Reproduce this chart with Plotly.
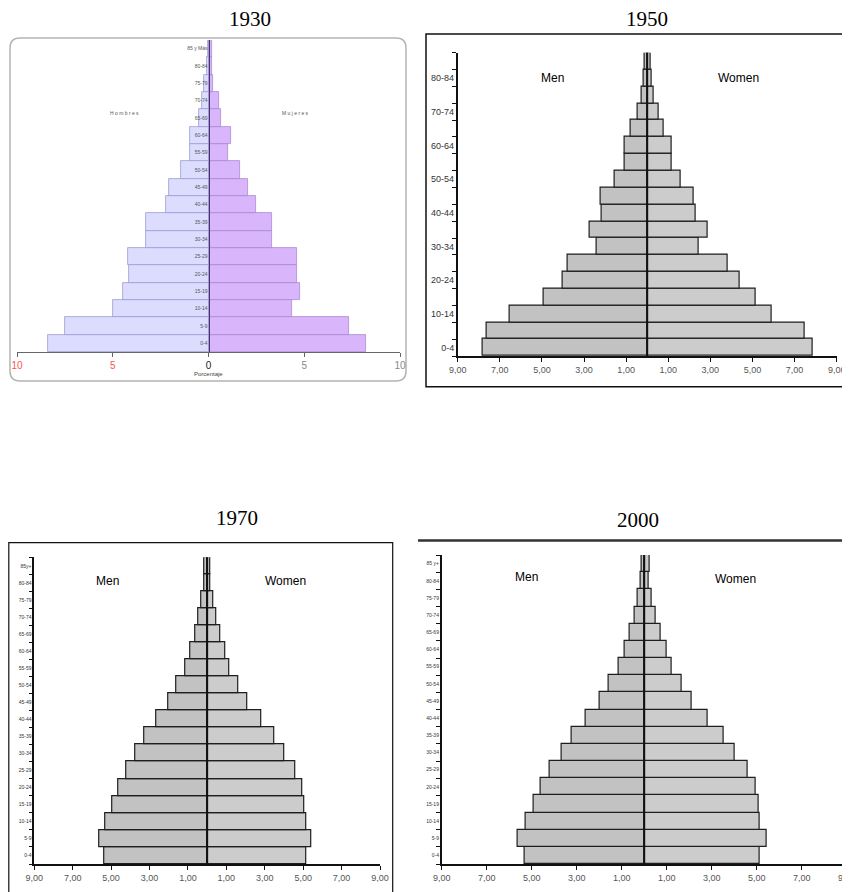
import plotly.graph_objects as go

W, H = 850, 892
OX, OY = 8, 8  # page body margin offset compensation

# ---------------- data ----------------
ages = ["0-4", "5-9", "10-14", "15-19", "20-24", "25-29", "30-34", "35-39", "40-44",
        "45-49", "50-54", "55-59", "60-64", "65-69", "70-74", "75-79", "80-84", "85+"]

labels_1930 = ages[:-1] + ["85 y Más"]
labels_1950 = ages[:-1] + ["85+"]
labels_1970 = ages[:-1] + ["85y+"]
labels_2000 = ages[:-1] + ["85 y+"]

men_1930 = [8.36, 7.49, 4.97, 4.49, 4.15, 4.23, 3.26, 3.26, 2.23, 2.06, 1.43, 0.99, 0.99, 0.52, 0.35, 0.23, 0.09, 0.05]
women_1930 = [8.24, 7.32, 4.36, 4.79, 4.62, 4.62, 3.34, 3.31, 2.47, 2.06, 1.62, 1.01, 1.18, 0.64, 0.56, 0.26, 0.19, 0.16]

men_1950 = [7.82, 7.63, 6.53, 4.91, 4.02, 3.78, 2.41, 2.75, 2.17, 2.23, 1.55, 1.08, 1.08, 0.79, 0.46, 0.27, 0.17, 0.13]
women_1950 = [7.85, 7.47, 5.90, 5.14, 4.41, 3.81, 2.44, 2.86, 2.29, 2.22, 1.61, 1.16, 1.16, 0.78, 0.54, 0.30, 0.22, 0.16]

men_1970 = [5.33, 5.64, 5.30, 4.95, 4.62, 4.20, 3.73, 3.26, 2.64, 2.01, 1.60, 1.15, 0.90, 0.63, 0.45, 0.31, 0.16, 0.16]
women_1970 = [5.14, 5.43, 5.14, 5.05, 4.95, 4.58, 4.01, 3.52, 2.80, 2.08, 1.63, 1.16, 0.94, 0.69, 0.47, 0.31, 0.16, 0.16]

men_2000 = [5.30, 5.61, 5.27, 4.92, 4.59, 4.21, 3.66, 3.21, 2.61, 1.99, 1.60, 1.14, 0.87, 0.65, 0.43, 0.31, 0.16, 0.12]
women_2000 = [5.14, 5.44, 5.13, 5.08, 4.95, 4.62, 4.04, 3.53, 2.80, 2.12, 1.66, 1.20, 0.98, 0.73, 0.52, 0.33, 0.19, 0.24]

ticks_1930 = [-10, -5, 0, 5, 10]
ticks_other = [-9, -7, -5, -3, -1, 1, 3, 5, 7, 9]

# ---------------- helpers ----------------
def px(x):
    return (x - OX) / W

def py(y):
    return 1 - (y - OY) / H

SANS = "Liberation Sans Narrow, Liberation Sans, Arial"
SERIF = "Liberation Serif, Times New Roman, serif"
pos = list(range(len(ages)))

fig = go.Figure()

# 1930 panel (purple)
fig.add_trace(go.Bar(y=pos, x=[-v for v in men_1930], orientation="h", xaxis="x", yaxis="y",
                     marker=dict(color="#dcdcff", line=dict(color="#9c9cd0", width=0.8)),
                     hoverinfo="skip", showlegend=False))
fig.add_trace(go.Bar(y=pos, x=women_1930, orientation="h", xaxis="x", yaxis="y",
                     marker=dict(color="#d9b6fc", line=dict(color="#a88ad0", width=0.8)),
                     hoverinfo="skip", showlegend=False))

gray_panels = [
    ("x2", "y2", men_1950, women_1950),
    ("x3", "y3", men_1970, women_1970),
    ("x4", "y4", men_2000, women_2000),
]
for xa, ya, m, w in gray_panels:
    fig.add_trace(go.Bar(y=pos, x=[-v for v in m], orientation="h", xaxis=xa, yaxis=ya,
                         marker=dict(color="#c2c2c2", line=dict(color="#1e1e1e", width=1.2)),
                         hoverinfo="skip", showlegend=False))
    fig.add_trace(go.Bar(y=pos, x=w, orientation="h", xaxis=xa, yaxis=ya,
                         marker=dict(color="#cccccc", line=dict(color="#1e1e1e", width=1.2)),
                         hoverinfo="skip", showlegend=False))

# ---------------- axes ----------------
def tick_text_other(vals):
    return [f"{abs(v)},00" for v in vals]

ttext_1930 = []
for v in ticks_1930:
    if v < 0:
        ttext_1930.append(f"<span style='color:#ff5050'>{abs(v)}</span>")
    elif v == 0:
        ttext_1930.append(f"<span style='color:#222222'>{v}</span>")
    else:
        ttext_1930.append(f"<span style='color:#888888'>{v}</span>")

fig.update_layout(
    xaxis=dict(domain=[px(17), px(400)], range=[-10, 10], anchor="y", automargin=False,
               tickvals=ticks_1930, ticktext=ttext_1930, ticks="outside", ticklen=4,
               tickcolor="#666666", showline=True, linecolor="#666666", linewidth=1,
               showgrid=False, zeroline=False, tickfont=dict(family=SANS, size=10)),
    yaxis=dict(domain=[py(352), py(40)], range=[-0.5, 17.5], anchor="free", automargin=False,
               position=px(208.5), tickvals=pos, ticktext=labels_1930, ticks="",
               showline=True, linecolor="#3a3a6a", linewidth=1, layer="above traces",
               showgrid=False, zeroline=False, tickfont=dict(family=SANS, size=5, color="#555555")),
)

def gray_axes(xdom, ydom, labels, every, yfont):
    tv = [p for p in pos if p % every == 0]
    xa = dict(domain=xdom, range=[-9, 9], tickvals=ticks_other, automargin=False,
              ticktext=tick_text_other(ticks_other), ticks="outside", ticklen=4,
              tickcolor="#111111", showline=True, linecolor="#111111", linewidth=1.5,
              showgrid=False, zeroline=False, tickfont=dict(family=SANS, size=9, color="#555555"))
    ya = dict(domain=ydom, range=[-0.5, 17.5], tickvals=tv, ticktext=[labels[p] for p in tv],
              ticks="", showline=True, linecolor="#111111", linewidth=1.5, automargin=False,
              showgrid=False, zeroline=False,
              minor=dict(tickvals=[p - 0.5 for p in pos] + [17.5], ticks="outside",
                         ticklen=4, tickcolor="#111111", tickwidth=1),
              tickfont=dict(family=SANS, size=yfont, color="#333333"))
    return xa, ya

xa2, ya2 = gray_axes([px(457.7), px(836.7)], [py(356), py(52.7)], labels_1950, 2, 9)
xa3, ya3 = gray_axes([px(34.3), px(380)], [py(864), py(557.3)], labels_1970, 1, 5)
xa4, ya4 = gray_axes([px(441.7), px(846.7)], [py(864), py(555)], labels_2000, 1, 5)
xa2["anchor"] = "y2"; ya2["anchor"] = "x2"
xa3["anchor"] = "y3"; ya3["anchor"] = "x3"
xa4["anchor"] = "y4"; ya4["anchor"] = "x4"

fig.update_layout(xaxis2=xa2, yaxis2=ya2, xaxis3=xa3, yaxis3=ya3, xaxis4=xa4, yaxis4=ya4)

# ---------------- shapes ----------------
shapes = []
r = 10
def P(x, y):
    return f"{px(x)},{py(y)}"
path = (f"M {P(10+r,38)} L {P(406-r,38)} Q {P(406,38)} {P(406,38+r)} "
        f"L {P(406,381-r)} Q {P(406,381)} {P(406-r,381)} L {P(10+r,381)} "
        f"Q {P(10,381)} {P(10,381-r)} L {P(10,38+r)} Q {P(10,38)} {P(10+r,38)} Z")
shapes.append(dict(type="path", xref="paper", yref="paper", path=path,
                   line=dict(color="#b4b4b4", width=1.5), layer="below"))
shapes.append(dict(type="rect", xref="paper", yref="paper", x0=px(426), x1=px(860),
                   y0=py(386.7), y1=py(34), line=dict(color="#111111", width=1.5), layer="below"))
shapes.append(dict(type="rect", xref="paper", yref="paper", x0=px(OX + 0.8), x1=px(392.7),
                   y0=py(900), y1=py(542.7), line=dict(color="#111111", width=1.2), layer="below"))
shapes.append(dict(type="line", xref="paper", yref="paper", x0=px(418), x1=px(860),
                   y0=py(540.5), y1=py(540.5), line=dict(color="#333333", width=2.5)))
for xa, ydom in [("x2", (py(356), py(52.7))), ("x3", (py(864), py(557.3))), ("x4", (py(864), py(555)))]:
    shapes.append(dict(type="line", xref=xa, yref="paper", x0=0, x1=0, y0=ydom[0], y1=ydom[1],
                       line=dict(color="#111111", width=2), layer="above"))
fig.update_layout(shapes=shapes)

# ---------------- annotations ----------------
ann = []
def text(x, y, s, size, color="#000000", family=SANS):
    ann.append(dict(x=px(x), y=py(y), xref="paper", yref="paper", text=s, showarrow=False,
                    xanchor="center", yanchor="middle", font=dict(family=family, size=size, color=color)))

text(250, 19, "1930", 21, family=SERIF)
text(647, 19, "1950", 21, family=SERIF)
text(237, 518, "1970", 21, family=SERIF)
text(638, 520, "2000", 21, family=SERIF)

text(125, 113, "H o m b r e s", 5, "#555555")
text(295, 113, "M u j e r e s", 5, "#555555")
text(208, 374, "Porcentaje", 6, "#444444")

text(552, 78, "Men", 12)
text(738, 78, "Women", 12)
text(107, 581, "Men", 12)
text(285, 581, "Women", 12)
text(526, 577, "Men", 12)
text(735, 579, "Women", 12)
fig.update_layout(annotations=ann)

fig.update_layout(template="none", width=W, height=H, margin=dict(l=0, r=0, t=0, b=0, pad=0),
                  paper_bgcolor="white", plot_bgcolor="rgba(0,0,0,0)",
                  barmode="relative", bargap=0, showlegend=False)

fig.write_html("out.html")
